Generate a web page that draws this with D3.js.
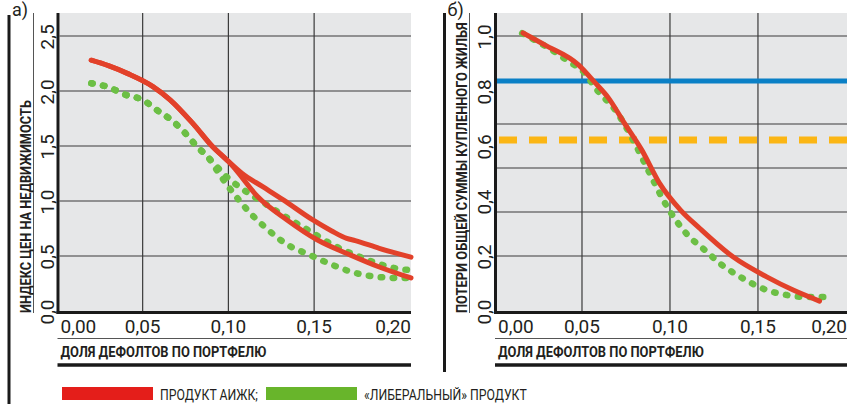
<!DOCTYPE html>
<html lang="ru">
<head>
<meta charset="utf-8"/>
<title>Индекс цен и потери</title>
<script src="https://cdn.jsdelivr.net/npm/d3@7"></script>
<style>
  body { margin: 0; background: #fff; }
  svg text { font-family: "Liberation Sans Narrow", "Arial Narrow", "Roboto", sans-serif; fill: #231f20; }
  .tick { font-size: 19px; }
  .ttl { font-size: 14.5px; font-weight: bold; }
  .leg { font-size: 14px; }
</style>
</head>
<body>
<svg id="chart" width="847" height="404"></svg>
<script>
// x axis (both panels)
const xTicks = [0, 0.05, 0.10, 0.15, 0.20];
const xLabels = ["0,00", "0,05", "0,10", "0,15", "0,20"];
const xGrid = [0.05, 0.10, 0.15];

// panel a) - price index
const aYTicks = [0, 0.5, 1.0, 1.5, 2.0, 2.5];
const aYLabels = ["0,0", "0,5", "1,0", "1,5", "2,0", "2,5"];
const aGrid = [0.5, 1.0, 1.5, 2.0, 2.5];
const aRed1X = [0.020, 0.030, 0.041, 0.056, 0.066, 0.079, 0.091, 0.100, 0.108, 0.120, 0.132, 0.149, 0.160, 0.169, 0.174, 0.188, 0.2065];
const aRed1Y = [2.28, 2.23, 2.16, 2.04, 1.92, 1.71, 1.49, 1.36, 1.25, 1.13, 1.01, 0.83, 0.73, 0.66, 0.64, 0.57, 0.49];
const aRed2X = [0.020, 0.030, 0.041, 0.056, 0.066, 0.079, 0.091, 0.100, 0.104, 0.117, 0.134, 0.152, 0.171, 0.188, 0.2065];
const aRed2Y = [2.28, 2.23, 2.16, 2.04, 1.92, 1.71, 1.49, 1.36, 1.29, 1.04, 0.83, 0.645, 0.51, 0.40, 0.30];
const aGreen1X = [0.020, 0.029, 0.041, 0.050, 0.058, 0.068, 0.074, 0.082, 0.088, 0.094, 0.099, 0.109, 0.123, 0.134, 0.146, 0.161, 0.177, 0.194, 0.2065];
const aGreen1Y = [2.07, 2.04, 1.96, 1.92, 1.83, 1.72, 1.63, 1.49, 1.40, 1.30, 1.22, 1.10, 0.96, 0.85, 0.74, 0.60, 0.49, 0.40, 0.37];
const aGreen2X = [0.020, 0.029, 0.041, 0.050, 0.058, 0.068, 0.074, 0.082, 0.088, 0.095, 0.100, 0.105, 0.114, 0.123, 0.130, 0.137, 0.146, 0.159, 0.173, 0.187, 0.200, 0.2065];
const aGreen2Y = [2.07, 2.04, 1.96, 1.92, 1.83, 1.72, 1.63, 1.49, 1.40, 1.24, 1.13, 1.03, 0.87, 0.74, 0.65, 0.58, 0.52, 0.43, 0.35, 0.31, 0.30, 0.30];

// panel б) - losses
const bYTicks = [0, 0.2, 0.4, 0.6, 0.8, 1.0];
const bYLabels = ["0,0", "0,2", "0,4", "0,6", "0,8", "1,0"];
const bGrid = [0.2, 0.36, 0.52, 0.68, 0.84, 1.0];
const bBlue = 0.836;
const bOrange = 0.622;
const bRedX = [0.0165, 0.029, 0.048, 0.057, 0.065, 0.074, 0.084, 0.094, 0.106, 0.117, 0.136, 0.155, 0.170, 0.185];
const bRedY = [1.011, 0.967, 0.895, 0.833, 0.775, 0.684, 0.585, 0.465, 0.367, 0.300, 0.196, 0.124, 0.076, 0.036];
const bGreenX = [0.016, 0.035, 0.043, 0.050, 0.059, 0.069, 0.080, 0.0875, 0.0995, 0.109, 0.121, 0.128, 0.140, 0.155, 0.1665, 0.178, 0.188];
const bGreenY = [1.010, 0.940, 0.905, 0.876, 0.800, 0.730, 0.610, 0.513, 0.367, 0.284, 0.215, 0.175, 0.124, 0.076, 0.058, 0.051, 0.051];

const legendNames = ["ПРОДУКТ АИЖК;", "«ЛИБЕРАЛЬНЫЙ» ПРОДУКТ"];

const RED = "#e2412a", GREEN = "#6cbf45";
const svg = d3.select("#chart");

// squeeze a text horizontally (in its own frame) to a given length
function fitText(sel, len, pre) {
  const w = sel.node().getComputedTextLength();
  const k = Math.min(1, len / w);
  sel.attr("transform", `${pre || ""} scale(${k},1)`);
}

function panel(o) {
  const g = svg.append("g");
  const x = d3.scaleLinear().domain(o.xDom).range([o.left, o.right]);
  const y = d3.scaleLinear().domain(o.yDom).range([311, 13]);

  g.append("rect").attr("x", o.left).attr("y", 13)
    .attr("width", o.right - o.left).attr("height", 298).attr("fill", "#e6e7e8");

  g.append("g").selectAll("line").data(o.grid).join("line")
    .attr("x1", o.left).attr("x2", o.right)
    .attr("y1", d => y(d)).attr("y2", d => y(d))
    .attr("stroke", "#3a3a3a").attr("stroke-width", 1.2);
  g.append("g").selectAll("line").data(xGrid).join("line")
    .attr("x1", d => x(d)).attr("x2", d => x(d))
    .attr("y1", 13).attr("y2", 311)
    .attr("stroke", "#3a3a3a").attr("stroke-width", 1.2);

  if (o.refs) o.refs(g, x, y);

  const line = d3.line().x(d => x(d[0])).y(d => y(d[1])).curve(d3.curveMonotoneX);
  o.greens.forEach(s => {
    g.append("path").datum(d3.zip(s[0], s[1])).attr("d", line)
      .attr("fill", "none").attr("stroke", GREEN).attr("stroke-width", 6.5)
      .attr("stroke-linecap", "round").attr("stroke-dasharray", "1.5 10.5");
  });
  o.reds.forEach(s => {
    g.append("path").datum(d3.zip(s[0], s[1])).attr("d", line)
      .attr("fill", "none").attr("stroke", RED).attr("stroke-width", 5)
      .attr("stroke-linecap", "round");
  });

  // axes frame
  g.append("line").attr("x1", o.left - 1.5).attr("x2", o.left - 1.5)
    .attr("y1", 13).attr("y2", 314).attr("stroke", "#1a1a1a").attr("stroke-width", 3);
  g.append("line").attr("x1", o.left - 3).attr("x2", o.right)
    .attr("y1", 312.5).attr("y2", 312.5).attr("stroke", "#1a1a1a").attr("stroke-width", 3);

  // x tick labels
  const last = xTicks.length - 1;
  g.append("g").selectAll("text").data(xTicks).join("text").attr("class", "tick")
    .attr("x", (d, i) => i === 0 ? o.left + 1 : i === last ? o.right : x(d))
    .attr("y", 333)
    .attr("text-anchor", (d, i) => i === 0 ? "start" : i === last ? "end" : "middle")
    .text((d, i) => xLabels[i]);

  // y tick labels (rotated)
  g.append("g").selectAll("text").data(o.yTicks).join("text").attr("class", "tick")
    .attr("transform", d => `translate(${o.left - 6},${y(d) + 1}) rotate(-90)`)
    .attr("text-anchor", "middle")
    .text((d, i) => o.yLabels[i]);

  // y title and rules
  g.append("line").attr("x1", o.ruleX).attr("x2", o.ruleX)
    .attr("y1", 13).attr("y2", 313).attr("stroke", "#555").attr("stroke-width", 1);
  const yt = g.append("text").attr("class", "ttl").text(o.yTitle);
  fitText(yt, o.yTitleLen, `translate(${o.ruleX - 3},313) rotate(-90)`);
  g.append("line").attr("x1", o.frameX).attr("x2", o.frameX)
    .attr("y1", o.frameTop).attr("y2", o.frameBottom).attr("stroke", "#1a1a1a").attr("stroke-width", 3);
  g.append("text").attr("x", o.frameX + 3).attr("y", 16).attr("font-size", 18).text(o.tag);

  // x title and rules
  g.append("line").attr("x1", o.left - 2).attr("x2", o.right)
    .attr("y1", 338.5).attr("y2", 338.5).attr("stroke", "#555").attr("stroke-width", 1);
  const xt = g.append("text").attr("class", "ttl").text("ДОЛЯ ДЕФОЛТОВ ПО ПОРТФЕЛЮ");
  fitText(xt, 206, `translate(${o.left + 1},357)`);
  g.append("line").attr("x1", o.left - 2).attr("x2", o.right)
    .attr("y1", 365).attr("y2", 365).attr("stroke", "#1a1a1a").attr("stroke-width", 3.5);
}

panel({
  left: 59.5, right: 411, xDom: [0.0015, 0.2065], yDom: [0, 2.709],
  grid: aGrid, yTicks: aYTicks, yLabels: aYLabels,
  reds: [[aRed1X, aRed1Y], [aRed2X, aRed2Y]],
  greens: [[aGreen1X, aGreen1Y], [aGreen2X, aGreen2Y]],
  yTitle: "ИНДЕКС ЦЕН НА НЕДВИЖИМОСТЬ", yTitleLen: 213, ruleX: 33.5,
  frameX: 9, frameTop: 15, frameBottom: 404, tag: "а)"
});

panel({
  left: 497, right: 847, xDom: [0.0017, 0.2006], yDom: [0, 1.0836],
  grid: bGrid, yTicks: bYTicks, yLabels: bYLabels,
  reds: [[bRedX, bRedY]],
  greens: [[bGreenX, bGreenY]],
  refs: (g, x, y) => {
    g.append("line").attr("x1", 497).attr("x2", 847)
      .attr("y1", y(bBlue)).attr("y2", y(bBlue))
      .attr("stroke", "#0a80c6").attr("stroke-width", 5);
    g.append("line").attr("x1", 499).attr("x2", 847)
      .attr("y1", y(bOrange)).attr("y2", y(bOrange))
      .attr("stroke", "#fbb614").attr("stroke-width", 7).attr("stroke-dasharray", "18 12");
  },
  yTitle: "ПОТЕРИ ОБЩЕЙ СУММЫ КУПЛЕННОГО ЖИЛЬЯ", yTitleLen: 291, ruleX: 469.5,
  frameX: 444.5, frameTop: 13, frameBottom: 372, tag: "б)"
});

// legend
const legColors = ["#e41e1a", "#68b52b"];
const legX = [62, 266];
const legLen = [98, 163];
const legG = svg.append("g");
legG.selectAll("rect").data(legendNames).join("rect")
  .attr("x", (d, i) => legX[i]).attr("y", 387).attr("width", 91).attr("height", 13)
  .attr("fill", (d, i) => legColors[i]);
legG.selectAll("text").data(legendNames).join("text").attr("class", "leg")
  .text(d => d)
  .each(function (d, i) {
    fitText(d3.select(this), legLen[i], `translate(${legX[i] + 98},399.5)`);
  });
</script>
</body>
</html>
